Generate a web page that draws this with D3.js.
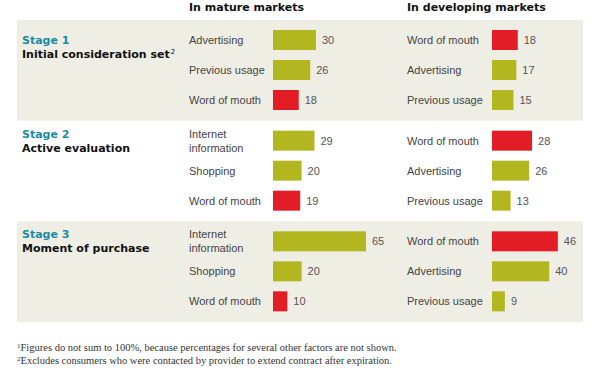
<!DOCTYPE html>
<html>
<head>
<meta charset="utf-8">
<script src="https://cdn.jsdelivr.net/npm/d3@7"></script>
<style>
  body { margin: 0; background: #fff; }
  svg { display: block; font-family: "Liberation Sans", Arial, sans-serif; }
</style>
</head>
<body>
<div id="chart"></div>
<script>
// stages of the decision journey
const stageNums = ['Stage 1', 'Stage 2', 'Stage 3'];
const stageNames = ['Initial consideration set', 'Active evaluation', 'Moment of purchase'];
const stageSup = ['2', '', ''];

// mature markets
const matureLabels = [
  ['Advertising', 'Previous usage', 'Word of mouth'],
  ['Internet information', 'Shopping', 'Word of mouth'],
  ['Internet information', 'Shopping', 'Word of mouth']
];
const matureValues = [[30, 26, 18], [29, 20, 19], [65, 20, 10]];

// developing markets
const devLabels = [
  ['Word of mouth', 'Advertising', 'Previous usage'],
  ['Word of mouth', 'Advertising', 'Previous usage'],
  ['Word of mouth', 'Advertising', 'Previous usage']
];
const devValues = [[18, 17, 15], [28, 26, 13], [46, 40, 9]];

const headers = ['In mature markets', 'In developing markets'];
const footnotes = [
  ['1', 'Figures do not sum to 100%, because percentages for several other factors are not shown.'],
  ['2', 'Excludes consumers who were contacted by provider to extend contract after expiration.']
];

const W = 604, H = 385;
const OLIVE = '#b2b720', RED = '#e31d25', BEIGE = '#efeee5', TEAL = '#1a8ba3';
const HEAVY = '"DejaVu Sans", "Liberation Sans", sans-serif';

const svg = d3.select('#chart').append('svg').attr('width', W).attr('height', H);

const yStage = d3.scaleBand().domain(d3.range(3)).range([20, 322]).padding(0);
const yRow = d3.scalePoint().domain(d3.range(3)).range([20, 80]);
const x = d3.scaleLinear().domain([0, 65]).range([0, 93]);

const cols = [
  { labelX: 189, barX: 273, labels: matureLabels, values: matureValues },
  { labelX: 407, barX: 492, labels: devLabels, values: devValues }
];

const split = s => s === 'Internet information' ? ['Internet', 'information'] : [s];

// background bands for stage 1 and 3
svg.selectAll('rect.band')
  .data([0, 2])
  .join('rect')
  .attr('class', 'band')
  .attr('x', 17).attr('width', 583 - 17)
  .attr('y', d => yStage(d)).attr('height', yStage.bandwidth())
  .attr('fill', BEIGE);

// column headers
svg.selectAll('text.hdr')
  .data(headers)
  .join('text')
  .attr('class', 'hdr')
  .attr('x', (d, i) => cols[i].labelX)
  .attr('y', 11)
  .style('font-family', HEAVY)
  .style('font-size', '11px').style('font-weight', 'bold').attr('fill', '#111')
  .text(d => d);

// stage titles, aligned with the first line of the first row label
stageNums.forEach((s, i) => {
  const top = yStage(i);
  const twoLine = split(matureLabels[i][0]).length > 1;
  const base = top + yRow(0) + (twoLine ? -3 : 4);
  svg.append('text')
    .attr('x', 22).attr('y', base)
    .style('font-family', HEAVY)
    .style('font-size', '11px').style('font-weight', 'bold').attr('fill', TEAL)
    .text(s);
  const t = svg.append('text')
    .attr('x', 22).attr('y', base + 14)
    .style('font-family', HEAVY)
    .style('font-size', '11px').style('font-weight', 'bold').attr('fill', '#111')
    .text(stageNames[i]);
  if (stageSup[i]) {
    t.append('tspan').attr('dx', 1).attr('dy', -4).style('font-size', '7px').style('font-weight', 'normal')
      .text(stageSup[i]);
  }
});

// bars, labels, values
cols.forEach(c => {
  d3.range(3).forEach(si => {
    const g = svg.append('g').attr('transform', `translate(0,${yStage(si)})`);
    const rows = c.values[si].map((v, k) => ({ v, label: c.labels[si][k], k }));

    g.selectAll('rect')
      .data(rows)
      .join('rect')
      .attr('x', c.barX)
      .attr('y', d => yRow(d.k) - 10)
      .attr('width', d => x(d.v))
      .attr('height', 20)
      .attr('fill', d => d.label === 'Word of mouth' ? RED : OLIVE);

    g.selectAll('text.val')
      .data(rows)
      .join('text')
      .attr('class', 'val')
      .attr('x', d => c.barX + x(d.v) + 6)
      .attr('y', d => yRow(d.k) + 4)
      .style('font-size', '11px').attr('fill', '#555')
      .text(d => d.v);

    const lab = g.selectAll('text.lab')
      .data(rows)
      .join('text')
      .attr('class', 'lab')
      .attr('x', c.labelX)
      .attr('y', d => yRow(d.k) + 4)
      .style('font-size', '11px').attr('fill', '#444');
    lab.each(function (d) {
      const parts = split(d.label);
      const el = d3.select(this);
      if (parts.length === 1) { el.text(parts[0]); return; }
      el.attr('y', yRow(d.k) - 3);
      parts.forEach((p, j) => {
        el.append('tspan').attr('x', c.labelX).attr('dy', j ? 14 : 0).text(p);
      });
    });
  });
});

// footnotes
svg.selectAll('text.fn')
  .data(footnotes)
  .join('text')
  .attr('class', 'fn')
  .attr('x', 17)
  .attr('y', (d, i) => 351 + i * 13)
  .style('font-family', '"Liberation Serif", "DejaVu Serif", serif')
  .style('font-size', '10.5px').attr('fill', '#333')
  .each(function (d) {
    const el = d3.select(this);
    el.append('tspan').attr('dy', -3).style('font-size', '7px').text(d[0]);
    el.append('tspan').attr('dy', 3).text(d[1]);
  });
</script>
</body>
</html>
